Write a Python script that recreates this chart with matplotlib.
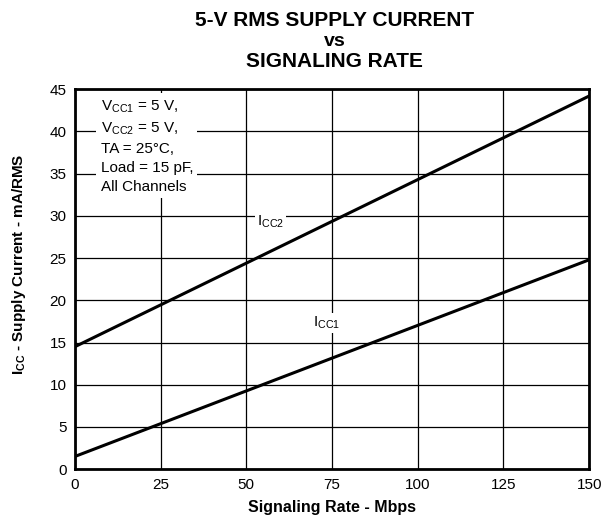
import matplotlib
matplotlib.use('Agg')
import matplotlib.pyplot as plt
import numpy as np

plt.rcParams['font.family'] = ['Liberation Sans', 'DejaVu Sans']
plt.rcParams['mathtext.fontset'] = 'custom'
plt.rcParams['mathtext.rm'] = 'Liberation Sans'
plt.rcParams['mathtext.it'] = 'Liberation Sans'
plt.rcParams['mathtext.bf'] = 'Liberation Sans:bold'

# signaling rate (Mbps) and supply currents (mA)
rate = [0, 150]
icc1 = [1.5, 24.8]
icc2 = [14.5, 44.2]

xticks = [0, 25, 50, 75, 100, 125, 150]
yticks = [0, 5, 10, 15, 20, 25, 30, 35, 40, 45]

fig = plt.figure(figsize=(6.08, 5.19), dpi=100)
ax = fig.add_axes([0.123, 0.096, 0.846, 0.732])

ax.plot(rate, icc2, color='black', lw=2.2, zorder=3)
ax.plot(rate, icc1, color='black', lw=2.2, zorder=3)

ax.set_xlim(0, 150)
ax.set_ylim(0, 45)
ax.set_xticks(xticks)
ax.set_yticks(yticks)
ax.grid(True, color='black', lw=0.9)
ax.set_axisbelow(True)
ax.tick_params(length=0, labelsize=11, pad=6)
for s in ax.spines.values():
    s.set_linewidth(2)

white = dict(facecolor='white', edgecolor='none', pad=1.5)
note = ('$\\mathrm{V_{CC1}}$ = 5 V,\n$\\mathrm{V_{CC2}}$ = 5 V,\n'
        'TA = 25°C,\nLoad = 15 pF,\nAll Channels')
ax.text(7.5, 43.9, note, fontsize=11, va='top', ha='left', linespacing=1.45,
        bbox=dict(facecolor='white', edgecolor='none', pad=3), zorder=4)
ax.text(57, 29.3, '$\\mathrm{I_{CC2}}$', fontsize=11, ha='center', va='center',
        bbox=white, zorder=4)
ax.text(73.5, 17.3, '$\\mathrm{I_{CC1}}$', fontsize=11, ha='center', va='center',
        bbox=white, zorder=4)

ax.set_xlabel('Signaling Rate - Mbps', fontsize=11.5, fontweight='bold', labelpad=6)
ax.set_ylabel('$\\mathbf{I_{CC}}$ - Supply Current - mA/RMS', fontsize=11,
              fontweight='bold', labelpad=8)
ax.yaxis.set_label_coords(-0.09, 0.54)

fig.text(0.55, 0.961, '5-V RMS SUPPLY CURRENT', fontsize=15, fontweight='bold',
         ha='center', va='center')
fig.text(0.55, 0.921, 'vs', fontsize=14, fontweight='bold', ha='center', va='center')
fig.text(0.55, 0.881, 'SIGNALING RATE', fontsize=15, fontweight='bold',
         ha='center', va='center')

fig.savefig('out.png', dpi=100)
